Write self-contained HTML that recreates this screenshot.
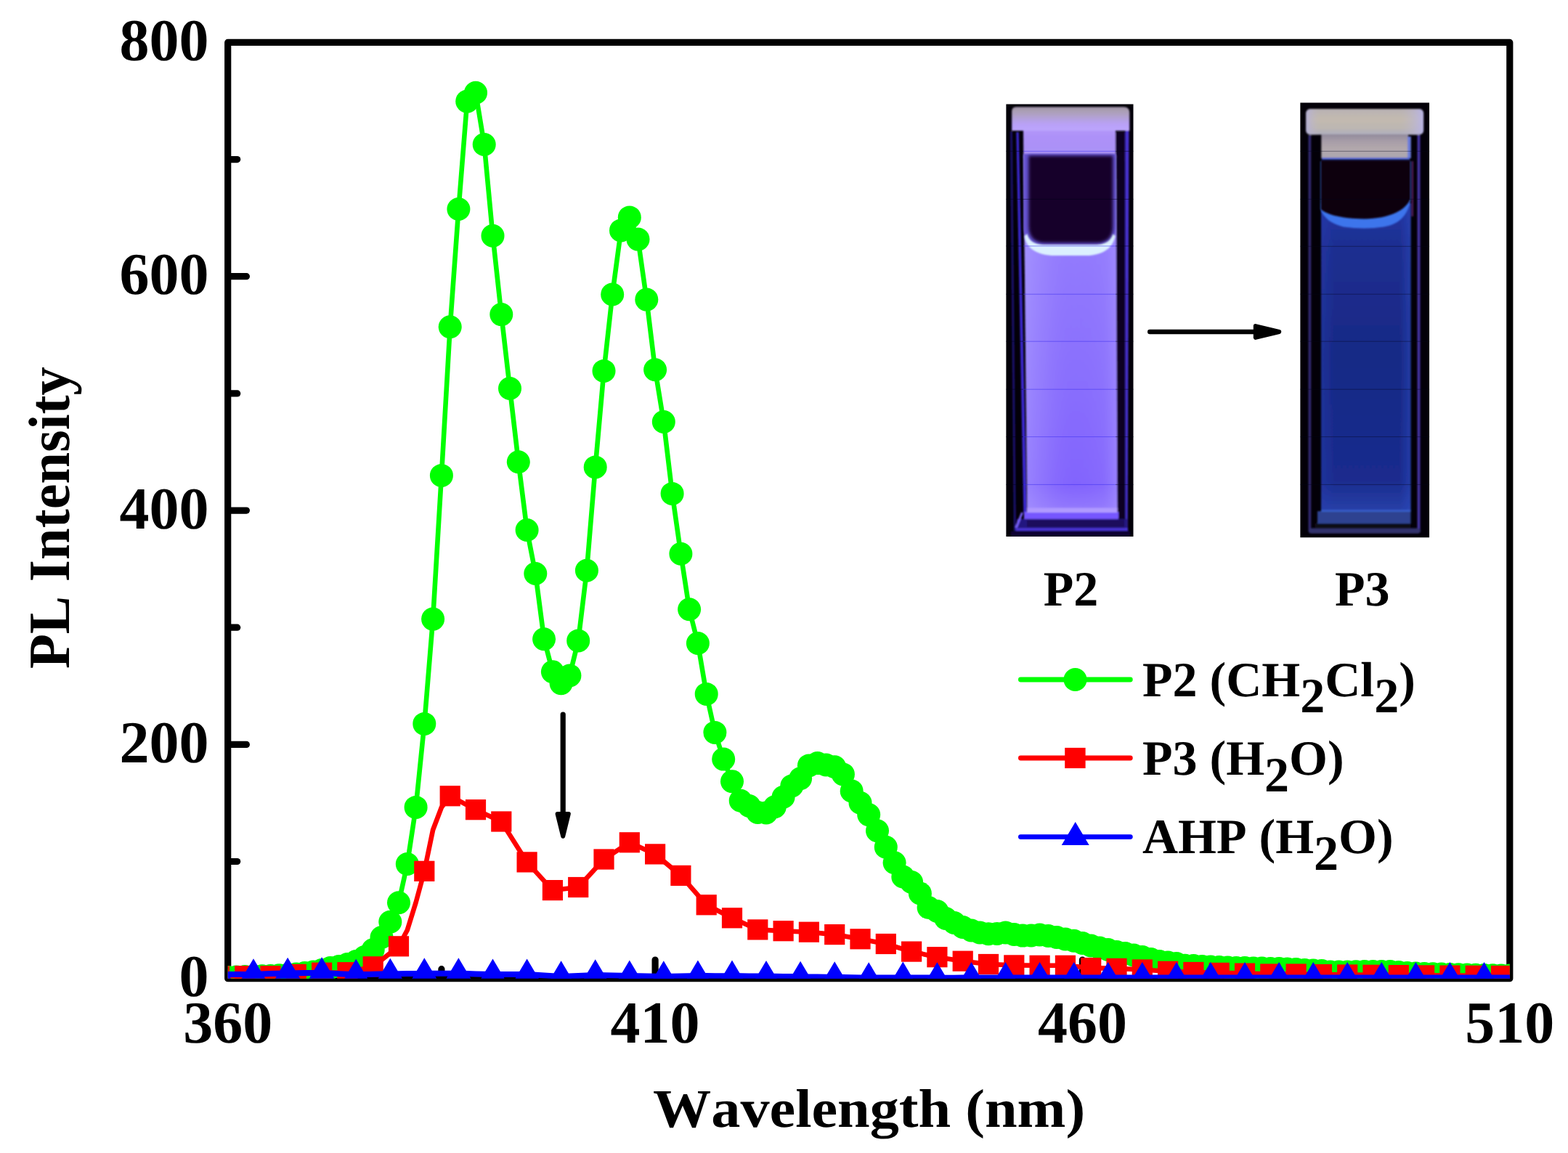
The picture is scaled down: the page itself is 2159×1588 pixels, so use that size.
<!DOCTYPE html>
<html lang="en"><head><meta charset="utf-8"><title>PL Intensity vs Wavelength</title>
<style>html,body{margin:0;padding:0;background:#fff;}body{width:2159px;height:1588px;overflow:hidden;}svg{display:block;}text{font-family:"Liberation Serif","DejaVu Serif",serif;font-weight:bold;fill:#000;font-kerning:none;text-rendering:geometricPrecision;}</style>
</head><body>
<svg width="2159" height="1588" viewBox="0 0 2159 1588">
<defs>
<clipPath id="plotclip"><rect x="313.7" y="58.4" width="1765.1" height="1289.3"/></clipPath>
<clipPath id="clipL"><rect x="1385.2" y="143.3" width="175.5" height="595.7"/></clipPath>
<clipPath id="clipR"><rect x="1790.2" y="141.3" width="178" height="599.2"/></clipPath>
<filter id="b1" x="-20%" y="-20%" width="140%" height="140%"><feGaussianBlur stdDeviation="1.1"/></filter>
<filter id="b2" x="-20%" y="-20%" width="140%" height="140%"><feGaussianBlur stdDeviation="2.2"/></filter>
<filter id="b4" x="-30%" y="-30%" width="160%" height="160%"><feGaussianBlur stdDeviation="4"/></filter>
<linearGradient id="capL" x1="0" y1="0" x2="0" y2="1">
<stop offset="0" stop-color="#9e92a6"/><stop offset="0.15" stop-color="#aa9eb2"/><stop offset="0.35" stop-color="#b0a1c8"/><stop offset="0.55" stop-color="#b5a1e3"/><stop offset="0.75" stop-color="#b9a1f8"/><stop offset="1" stop-color="#bca6fc"/>
</linearGradient>
<linearGradient id="neckL" x1="0" y1="0" x2="0" y2="1">
<stop offset="0" stop-color="#b296f9"/><stop offset="0.3" stop-color="#ad91f8"/><stop offset="0.8" stop-color="#ab92f7"/><stop offset="1" stop-color="#a58cf9"/>
</linearGradient>
<linearGradient id="liqLv" x1="0" y1="0" x2="0" y2="1">
<stop offset="0" stop-color="#a08afd"/><stop offset="0.3" stop-color="#927afd"/><stop offset="0.6" stop-color="#8a70fd"/><stop offset="0.93" stop-color="#8264fd"/><stop offset="1" stop-color="#947afd"/>
</linearGradient>
<linearGradient id="liqLh" x1="0" y1="0" x2="1" y2="0">
<stop offset="0" stop-color="#b4a8ff" stop-opacity="0.5"/><stop offset="0.25" stop-color="#a896ff" stop-opacity="0.25"/><stop offset="0.55" stop-color="#8a68ff" stop-opacity="0"/><stop offset="0.85" stop-color="#9a84ff" stop-opacity="0.2"/><stop offset="1" stop-color="#a894ff" stop-opacity="0.6"/>
</linearGradient>
<linearGradient id="capR" x1="0" y1="0" x2="0" y2="1">
<stop offset="0" stop-color="#b8b2b4"/><stop offset="0.4" stop-color="#c3baaf"/><stop offset="0.75" stop-color="#bcb6b2"/><stop offset="1" stop-color="#aeaebe"/>
</linearGradient>
<linearGradient id="plugR" x1="0" y1="0" x2="0" y2="1">
<stop offset="0" stop-color="#928a9c"/><stop offset="0.3" stop-color="#a89ea8"/><stop offset="0.6" stop-color="#b2a8ac"/><stop offset="1" stop-color="#aca6b0"/>
</linearGradient>
<linearGradient id="liqRv" x1="0" y1="0" x2="0" y2="1">
<stop offset="0" stop-color="#2236a2"/><stop offset="0.15" stop-color="#1e2e90"/><stop offset="0.5" stop-color="#182a86"/><stop offset="0.9" stop-color="#1a2c8e"/><stop offset="1" stop-color="#2840a8"/>
</linearGradient>
<linearGradient id="liqRh" x1="0" y1="0" x2="1" y2="0">
<stop offset="0" stop-color="#2a3cb0" stop-opacity="0.4"/><stop offset="0.15" stop-color="#2238b8" stop-opacity="0"/><stop offset="0.88" stop-color="#2a44c4" stop-opacity="0"/><stop offset="1" stop-color="#2c4cbc" stop-opacity="0.55"/>
</linearGradient>
<linearGradient id="capRh" x1="0" y1="0" x2="1" y2="0">
<stop offset="0" stop-color="#b4b0e0" stop-opacity="0.8"/><stop offset="0.12" stop-color="#c0b8c0" stop-opacity="0"/><stop offset="0.8" stop-color="#c0b8c0" stop-opacity="0"/><stop offset="1" stop-color="#b8b4ec" stop-opacity="0.9"/>
</linearGradient>
</defs>

<rect x="0" y="0" width="2159" height="1588" fill="#fff"/>
<g stroke="#000" stroke-width="9.2" stroke-linecap="round" stroke-linejoin="round" fill="none">
<rect x="313.7" y="58.4" width="1765.1" height="1289.3"/>
<line x1="315.2" y1="1186.5" x2="326.7" y2="1186.5"/>
<line x1="315.2" y1="1025.4" x2="339.4" y2="1025.4"/>
<line x1="315.2" y1="864.2" x2="326.7" y2="864.2"/>
<line x1="315.2" y1="703.1" x2="339.4" y2="703.1"/>
<line x1="315.2" y1="541.9" x2="326.7" y2="541.9"/>
<line x1="315.2" y1="380.7" x2="339.4" y2="380.7"/>
<line x1="315.2" y1="219.6" x2="326.7" y2="219.6"/>
<line x1="607.9" y1="1346.2" x2="607.9" y2="1334.7"/>
<line x1="902.1" y1="1346.2" x2="902.1" y2="1322"/>
<line x1="1196.2" y1="1346.2" x2="1196.2" y2="1334.7"/>
<line x1="1490.4" y1="1346.2" x2="1490.4" y2="1322"/>
<line x1="1784.6" y1="1346.2" x2="1784.6" y2="1334.7"/>
</g>
<g id="photoP2" clip-path="url(#clipL)">
<rect x="1385.2" y="143.3" width="175.5" height="595.7" fill="#030009"/>
<g filter="url(#b1)">
<path d="M1391.2 181H1393.8L1398.8 731H1396Z" fill="#1e1474"/>
<path d="M1399.4 182H1402.6L1413.6 706H1409.4Z" fill="#3e2ad8"/>
<rect x="1536.5" y="182" width="12" height="532" fill="#090220"/>
<path d="M1549.4 180H1554.4L1552.6 731H1549.6Z" fill="#4a32d4"/>
<rect x="1410" y="705" width="130" height="10" fill="#7656ff"/>
<rect x="1400" y="714.8" width="152" height="12.4" fill="#241480"/>
<rect x="1414" y="716" width="134" height="10" fill="#1c0c5c"/>
<rect x="1398.5" y="727.3" width="154.5" height="3.8" fill="#4c36dc"/>
<rect x="1392" y="731.5" width="164" height="7.5" fill="#0c0430"/>
<path d="M1399 727L1407.5 706" stroke="#7a62ff" stroke-width="3" fill="none"/>
<path d="M1409 178H1536L1536.2 218H1409.3Z" fill="url(#neckL)"/>
<path d="M1409.3 214H1536.2L1538.4 703H1414.3Z" fill="url(#liqLv)"/>
<path d="M1409.3 214H1536.2L1538.4 703H1414.3Z" fill="url(#liqLh)"/>
<rect x="1414" y="699.5" width="124.5" height="6.5" fill="#b09aff"/>
<path d="M1393.2 180V153.2Q1393.2 147.2 1399.2 147.2H1547.2Q1555.2 147.2 1555.2 155.2V180Z" fill="url(#capL)"/>
</g>
<path d="M1409.5 212H1536.2V314Q1536.2 337 1512 337H1434Q1409.5 337 1409.5 314Z" fill="#6652d2" filter="url(#b1)"/>
<path d="M1410.6 325C1413 341 1425 350 1448 352L1500 352C1521 350 1532 341 1535.8 325L1532 322C1529 332 1522 336 1510 337L1436 337C1424 336 1417 332 1414.4 322Z" fill="#dcf0ff" filter="url(#b1)"/>
<path d="M1416.4 214.6H1532.4V311Q1532.4 334.5 1509 334.5H1440Q1416.4 334.5 1416.4 311Z" fill="#130529" filter="url(#b2)"/>
</g>
<g id="photoP3" clip-path="url(#clipR)">
<rect x="1790.2" y="141.3" width="178" height="599.2" fill="#030008"/>
<g filter="url(#b1)">
<rect x="1801.6" y="186" width="3.6" height="546" fill="#332c72"/>
<rect x="1951.6" y="186" width="3.8" height="546" fill="#4634a6"/>
<rect x="1943.6" y="222" width="2.4" height="76" fill="#561c5c"/>
<rect x="1801.8" y="727.6" width="154" height="7.2" rx="4" ry="4" fill="#30306c"/>
<rect x="1810.5" y="720.6" width="132" height="7.4" fill="#0f0818"/>
<rect x="1814" y="704" width="128.5" height="17" fill="#2e4290"/>
<rect x="1819" y="280" width="123.5" height="424" fill="url(#liqRv)"/>
<rect x="1819" y="280" width="123.5" height="424" fill="url(#liqRh)"/>
<rect x="1819" y="702.4" width="123.5" height="2.4" fill="#3860cc"/>
<rect x="1798.2" y="150.1" width="161.9" height="35.4" rx="6" ry="6" fill="url(#capR)"/>
<rect x="1798.2" y="150.1" width="161.9" height="35.4" rx="6" ry="6" fill="url(#capRh)"/>
<rect x="1819.3" y="185" width="119.7" height="33" fill="url(#plugR)"/>
<rect x="1938.2" y="188" width="4.6" height="30" fill="#6a7cdc"/>
<rect x="1820" y="217.2" width="121" height="3.6" fill="#4a5ed0"/>
</g>
<path d="M1818.4 288C1822 300 1834 309 1850 312.4Q1878 316.6 1905 312.6C1924 309 1938 300 1942.5 274L1942.5 222H1818.4Z" fill="#3c74ec" filter="url(#b1)"/>
<path d="M1818.6 220.6H1942V274C1936 289 1914 301 1878 301.6C1846 301 1829 296 1818.6 288.6Z" fill="#0d0611" filter="url(#b1)"/>
</g>
<g id="scanlines" stroke-width="0.8" fill="none">
<path d="M1409 208.3H1536M1409 338.9H1536M1409 405.2H1536M1409 470.2H1536M1409 536.2H1536M1409 601.6H1536M1409 667.4H1536" stroke="#3a2cf0" stroke-opacity="0.65"/>
<path d="M1385.2 208.3H1409M1536 208.3H1560.7M1385.2 274.4H1560.7M1385.2 338.9H1409M1536 338.9H1560.7M1385.2 405.2H1409M1536 405.2H1560.7M1385.2 470.2H1409M1536 470.2H1560.7M1385.2 536.2H1409M1536 536.2H1560.7M1385.2 601.6H1409M1536 601.6H1560.7M1385.2 667.4H1409M1536 667.4H1560.7" stroke="#000018" stroke-opacity="0.6"/>
<path d="M1790.2 208.3H1968.2M1790.2 274.4H1968.2M1790.2 339.3H1968.2M1790.2 405.2H1968.2M1790.2 470.2H1968.2M1790.2 536.2H1968.2M1790.2 601.6H1968.2M1790.2 667.4H1968.2" stroke="#05051c" stroke-opacity="0.5"/>
</g>

<g clip-path="url(#plotclip)">
<polyline points="313.7,1346 325.5,1345.5 337.2,1345 349,1344.6 360.8,1344.3 372.5,1344 384.3,1343.3 396.1,1342.5 407.8,1341.5 419.6,1340 431.4,1338.5 443.1,1336 454.9,1333 466.7,1331 478.4,1328 490.2,1324 502,1318 513.7,1308 525.5,1291 537.3,1269.7 549,1243.3 560.8,1190 572.6,1111.9 584.3,996.9 596.1,852.6 607.9,654.9 619.7,450.3 631.4,288 643.2,139.6 655,127.7 666.7,199 678.5,324.7 690.3,433.1 702,535 713.8,636.3 725.6,730 737.3,790 749.1,880.2 760.9,925.3 772.6,941.2 784.4,930.4 796.2,882.4 807.9,785.8 819.7,643.4 831.5,510.9 843.2,405.5 855,317.4 866.8,299.4 878.5,329.6 890.3,412.6 902.1,509.2 913.8,581 925.6,679.9 937.4,762.7 949.1,839.3 960.9,886 972.7,955.9 984.4,1008.9 996.2,1045.6 1008,1076.2 1019.7,1102.8 1031.5,1110 1043.3,1119 1055,1119.5 1066.8,1111.3 1078.6,1097.7 1090.3,1082.4 1102.1,1072.2 1113.9,1054.4 1125.6,1051.1 1137.4,1053.4 1149.2,1056.2 1160.9,1066.4 1172.7,1089.5 1184.5,1105.8 1196.2,1122.1 1208,1144.3 1219.8,1166.7 1231.6,1188.3 1243.3,1207.5 1255.1,1215 1266.9,1230.5 1278.6,1250 1290.4,1255 1302.2,1265 1313.9,1271 1325.7,1277 1337.5,1281.5 1349.2,1284.5 1361,1286.3 1372.8,1286 1384.5,1284.5 1396.3,1287 1408.1,1288.6 1419.8,1288.5 1431.6,1287.5 1443.4,1289 1455.1,1291 1466.9,1293.5 1478.7,1295.7 1490.4,1299 1502.2,1302.5 1514,1305.5 1525.7,1308 1537.5,1311 1549.3,1313 1561,1315.5 1572.8,1318 1584.6,1321 1596.3,1324 1608.1,1325.4 1619.9,1327 1631.6,1329.8 1643.4,1330 1655.2,1331 1666.9,1331.5 1678.7,1332 1690.5,1332.5 1702.2,1333 1714,1333 1725.8,1333.5 1737.5,1333.5 1749.3,1334 1761.1,1334 1772.8,1334.5 1784.6,1335 1796.4,1336 1808.2,1336.4 1819.9,1337 1831.7,1338.5 1843.5,1338.5 1855.2,1338.4 1867,1338.2 1878.8,1338 1890.5,1338 1902.3,1338 1914.1,1338 1925.8,1339 1937.6,1340 1949.4,1340.6 1961.1,1340.9 1972.9,1341.2 1984.7,1341.6 1996.4,1341.9 2008.2,1342.2 2020,1342.5 2031.7,1342.7 2043.5,1343 2055.3,1343.3 2067,1343.4 2078.8,1343.6" fill="none" stroke="#00ff00" stroke-width="6.6" stroke-linejoin="round" stroke-linecap="round"/>
<g fill="#00ff00">
<circle cx="313.7" cy="1346" r="16"/>
<circle cx="325.5" cy="1345.5" r="16"/>
<circle cx="337.2" cy="1345" r="16"/>
<circle cx="349" cy="1344.6" r="16"/>
<circle cx="360.8" cy="1344.3" r="16"/>
<circle cx="372.5" cy="1344" r="16"/>
<circle cx="384.3" cy="1343.3" r="16"/>
<circle cx="396.1" cy="1342.5" r="16"/>
<circle cx="407.8" cy="1341.5" r="16"/>
<circle cx="419.6" cy="1340" r="16"/>
<circle cx="431.4" cy="1338.5" r="16"/>
<circle cx="443.1" cy="1336" r="16"/>
<circle cx="454.9" cy="1333" r="16"/>
<circle cx="466.7" cy="1331" r="16"/>
<circle cx="478.4" cy="1328" r="16"/>
<circle cx="490.2" cy="1324" r="16"/>
<circle cx="502" cy="1318" r="16"/>
<circle cx="513.7" cy="1308" r="16"/>
<circle cx="525.5" cy="1291" r="16"/>
<circle cx="537.3" cy="1269.7" r="16"/>
<circle cx="549" cy="1243.3" r="16"/>
<circle cx="560.8" cy="1190" r="16"/>
<circle cx="572.6" cy="1111.9" r="16"/>
<circle cx="584.3" cy="996.9" r="16"/>
<circle cx="596.1" cy="852.6" r="16"/>
<circle cx="607.9" cy="654.9" r="16"/>
<circle cx="619.7" cy="450.3" r="16"/>
<circle cx="631.4" cy="288" r="16"/>
<circle cx="643.2" cy="139.6" r="16"/>
<circle cx="655" cy="127.7" r="16"/>
<circle cx="666.7" cy="199" r="16"/>
<circle cx="678.5" cy="324.7" r="16"/>
<circle cx="690.3" cy="433.1" r="16"/>
<circle cx="702" cy="535" r="16"/>
<circle cx="713.8" cy="636.3" r="16"/>
<circle cx="725.6" cy="730" r="16"/>
<circle cx="737.3" cy="790" r="16"/>
<circle cx="749.1" cy="880.2" r="16"/>
<circle cx="760.9" cy="925.3" r="16"/>
<circle cx="772.6" cy="941.2" r="16"/>
<circle cx="784.4" cy="930.4" r="16"/>
<circle cx="796.2" cy="882.4" r="16"/>
<circle cx="807.9" cy="785.8" r="16"/>
<circle cx="819.7" cy="643.4" r="16"/>
<circle cx="831.5" cy="510.9" r="16"/>
<circle cx="843.2" cy="405.5" r="16"/>
<circle cx="855" cy="317.4" r="16"/>
<circle cx="866.8" cy="299.4" r="16"/>
<circle cx="878.5" cy="329.6" r="16"/>
<circle cx="890.3" cy="412.6" r="16"/>
<circle cx="902.1" cy="509.2" r="16"/>
<circle cx="913.8" cy="581" r="16"/>
<circle cx="925.6" cy="679.9" r="16"/>
<circle cx="937.4" cy="762.7" r="16"/>
<circle cx="949.1" cy="839.3" r="16"/>
<circle cx="960.9" cy="886" r="16"/>
<circle cx="972.7" cy="955.9" r="16"/>
<circle cx="984.4" cy="1008.9" r="16"/>
<circle cx="996.2" cy="1045.6" r="16"/>
<circle cx="1008" cy="1076.2" r="16"/>
<circle cx="1019.7" cy="1102.8" r="16"/>
<circle cx="1031.5" cy="1110" r="16"/>
<circle cx="1043.3" cy="1119" r="16"/>
<circle cx="1055" cy="1119.5" r="16"/>
<circle cx="1066.8" cy="1111.3" r="16"/>
<circle cx="1078.6" cy="1097.7" r="16"/>
<circle cx="1090.3" cy="1082.4" r="16"/>
<circle cx="1102.1" cy="1072.2" r="16"/>
<circle cx="1113.9" cy="1054.4" r="16"/>
<circle cx="1125.6" cy="1051.1" r="16"/>
<circle cx="1137.4" cy="1053.4" r="16"/>
<circle cx="1149.2" cy="1056.2" r="16"/>
<circle cx="1160.9" cy="1066.4" r="16"/>
<circle cx="1172.7" cy="1089.5" r="16"/>
<circle cx="1184.5" cy="1105.8" r="16"/>
<circle cx="1196.2" cy="1122.1" r="16"/>
<circle cx="1208" cy="1144.3" r="16"/>
<circle cx="1219.8" cy="1166.7" r="16"/>
<circle cx="1231.6" cy="1188.3" r="16"/>
<circle cx="1243.3" cy="1207.5" r="16"/>
<circle cx="1255.1" cy="1215" r="16"/>
<circle cx="1266.9" cy="1230.5" r="16"/>
<circle cx="1278.6" cy="1250" r="16"/>
<circle cx="1290.4" cy="1255" r="16"/>
<circle cx="1302.2" cy="1265" r="16"/>
<circle cx="1313.9" cy="1271" r="16"/>
<circle cx="1325.7" cy="1277" r="16"/>
<circle cx="1337.5" cy="1281.5" r="16"/>
<circle cx="1349.2" cy="1284.5" r="16"/>
<circle cx="1361" cy="1286.3" r="16"/>
<circle cx="1372.8" cy="1286" r="16"/>
<circle cx="1384.5" cy="1284.5" r="16"/>
<circle cx="1396.3" cy="1287" r="16"/>
<circle cx="1408.1" cy="1288.6" r="16"/>
<circle cx="1419.8" cy="1288.5" r="16"/>
<circle cx="1431.6" cy="1287.5" r="16"/>
<circle cx="1443.4" cy="1289" r="16"/>
<circle cx="1455.1" cy="1291" r="16"/>
<circle cx="1466.9" cy="1293.5" r="16"/>
<circle cx="1478.7" cy="1295.7" r="16"/>
<circle cx="1490.4" cy="1299" r="16"/>
<circle cx="1502.2" cy="1302.5" r="16"/>
<circle cx="1514" cy="1305.5" r="16"/>
<circle cx="1525.7" cy="1308" r="16"/>
<circle cx="1537.5" cy="1311" r="16"/>
<circle cx="1549.3" cy="1313" r="16"/>
<circle cx="1561" cy="1315.5" r="16"/>
<circle cx="1572.8" cy="1318" r="16"/>
<circle cx="1584.6" cy="1321" r="16"/>
<circle cx="1596.3" cy="1324" r="16"/>
<circle cx="1608.1" cy="1325.4" r="16"/>
<circle cx="1619.9" cy="1327" r="16"/>
<circle cx="1631.6" cy="1329.8" r="16"/>
<circle cx="1643.4" cy="1330" r="16"/>
<circle cx="1655.2" cy="1331" r="16"/>
<circle cx="1666.9" cy="1331.5" r="16"/>
<circle cx="1678.7" cy="1332" r="16"/>
<circle cx="1690.5" cy="1332.5" r="16"/>
<circle cx="1702.2" cy="1333" r="16"/>
<circle cx="1714" cy="1333" r="16"/>
<circle cx="1725.8" cy="1333.5" r="16"/>
<circle cx="1737.5" cy="1333.5" r="16"/>
<circle cx="1749.3" cy="1334" r="16"/>
<circle cx="1761.1" cy="1334" r="16"/>
<circle cx="1772.8" cy="1334.5" r="16"/>
<circle cx="1784.6" cy="1335" r="16"/>
<circle cx="1796.4" cy="1336" r="16"/>
<circle cx="1808.2" cy="1336.4" r="16"/>
<circle cx="1819.9" cy="1337" r="16"/>
<circle cx="1831.7" cy="1338.5" r="16"/>
<circle cx="1843.5" cy="1338.5" r="16"/>
<circle cx="1855.2" cy="1338.4" r="16"/>
<circle cx="1867" cy="1338.2" r="16"/>
<circle cx="1878.8" cy="1338" r="16"/>
<circle cx="1890.5" cy="1338" r="16"/>
<circle cx="1902.3" cy="1338" r="16"/>
<circle cx="1914.1" cy="1338" r="16"/>
<circle cx="1925.8" cy="1339" r="16"/>
<circle cx="1937.6" cy="1340" r="16"/>
<circle cx="1949.4" cy="1340.6" r="16"/>
<circle cx="1961.1" cy="1340.9" r="16"/>
<circle cx="1972.9" cy="1341.2" r="16"/>
<circle cx="1984.7" cy="1341.6" r="16"/>
<circle cx="1996.4" cy="1341.9" r="16"/>
<circle cx="2008.2" cy="1342.2" r="16"/>
<circle cx="2020" cy="1342.5" r="16"/>
<circle cx="2031.7" cy="1342.7" r="16"/>
<circle cx="2043.5" cy="1343" r="16"/>
<circle cx="2055.3" cy="1343.3" r="16"/>
<circle cx="2067" cy="1343.4" r="16"/>
<circle cx="2078.8" cy="1343.6" r="16"/>
</g>
<polyline points="301.9,1344.5 337.2,1344.2 372.5,1344.2 407.8,1341.9 443.1,1339.7 478.4,1339.2 513.7,1331.3 549,1303.3 560.8,1281 572.6,1243 584.3,1199.8 596.1,1143 607.9,1112 619.7,1096.3 655,1115.2 690.3,1131.5 725.6,1187.4 760.9,1226.1 796.2,1222 831.5,1183.5 866.8,1160.3 902.1,1176.4 937.4,1205.9 972.7,1246.3 1008,1264.3 1043.3,1280.4 1078.6,1282.2 1113.9,1283.7 1149.2,1287.1 1184.5,1293.3 1219.8,1300 1255.1,1310.6 1290.4,1318.2 1325.7,1323.7 1361,1328 1396.3,1329.4 1431.6,1329.8 1466.9,1329.8 1502.2,1333.1 1537.5,1333.9 1572.8,1335.5 1608.1,1337.8 1643.4,1339 1678.7,1339.9 1714,1340.6 1749.3,1341.5 1784.6,1341.5 1819.9,1342.1 1855.2,1342.5 1890.5,1342.8 1925.8,1343.1 1961.1,1343.4 1996.4,1343.6 2031.7,1343.8 2067,1344 2102.3,1344" fill="none" stroke="#ff0000" stroke-width="6.6" stroke-linejoin="round" stroke-linecap="round"/>
<g fill="#ff0000">
<rect x="287.8" y="1330.4" width="28.2" height="28.2"/>
<rect x="323.1" y="1330.1" width="28.2" height="28.2"/>
<rect x="358.4" y="1330.1" width="28.2" height="28.2"/>
<rect x="393.7" y="1327.8" width="28.2" height="28.2"/>
<rect x="429" y="1325.6" width="28.2" height="28.2"/>
<rect x="464.3" y="1325.1" width="28.2" height="28.2"/>
<rect x="499.6" y="1317.2" width="28.2" height="28.2"/>
<rect x="534.9" y="1289.2" width="28.2" height="28.2"/>
<rect x="570.2" y="1185.7" width="28.2" height="28.2"/>
<rect x="605.6" y="1082.2" width="28.2" height="28.2"/>
<rect x="640.9" y="1101.1" width="28.2" height="28.2"/>
<rect x="676.2" y="1117.4" width="28.2" height="28.2"/>
<rect x="711.5" y="1173.3" width="28.2" height="28.2"/>
<rect x="746.8" y="1212" width="28.2" height="28.2"/>
<rect x="782.1" y="1207.9" width="28.2" height="28.2"/>
<rect x="817.4" y="1169.4" width="28.2" height="28.2"/>
<rect x="852.7" y="1146.2" width="28.2" height="28.2"/>
<rect x="888" y="1162.3" width="28.2" height="28.2"/>
<rect x="923.3" y="1191.8" width="28.2" height="28.2"/>
<rect x="958.6" y="1232.2" width="28.2" height="28.2"/>
<rect x="993.9" y="1250.2" width="28.2" height="28.2"/>
<rect x="1029.2" y="1266.3" width="28.2" height="28.2"/>
<rect x="1064.5" y="1268.1" width="28.2" height="28.2"/>
<rect x="1099.8" y="1269.6" width="28.2" height="28.2"/>
<rect x="1135.1" y="1273" width="28.2" height="28.2"/>
<rect x="1170.4" y="1279.2" width="28.2" height="28.2"/>
<rect x="1205.7" y="1285.9" width="28.2" height="28.2"/>
<rect x="1241" y="1296.5" width="28.2" height="28.2"/>
<rect x="1276.3" y="1304.1" width="28.2" height="28.2"/>
<rect x="1311.6" y="1309.6" width="28.2" height="28.2"/>
<rect x="1346.9" y="1313.9" width="28.2" height="28.2"/>
<rect x="1382.2" y="1315.3" width="28.2" height="28.2"/>
<rect x="1417.5" y="1315.7" width="28.2" height="28.2"/>
<rect x="1452.8" y="1315.7" width="28.2" height="28.2"/>
<rect x="1488.1" y="1319" width="28.2" height="28.2"/>
<rect x="1523.4" y="1319.8" width="28.2" height="28.2"/>
<rect x="1558.7" y="1321.4" width="28.2" height="28.2"/>
<rect x="1594" y="1323.7" width="28.2" height="28.2"/>
<rect x="1629.3" y="1324.9" width="28.2" height="28.2"/>
<rect x="1664.6" y="1325.8" width="28.2" height="28.2"/>
<rect x="1699.9" y="1326.5" width="28.2" height="28.2"/>
<rect x="1735.2" y="1327.4" width="28.2" height="28.2"/>
<rect x="1770.5" y="1327.4" width="28.2" height="28.2"/>
<rect x="1805.8" y="1328" width="28.2" height="28.2"/>
<rect x="1841.1" y="1328.4" width="28.2" height="28.2"/>
<rect x="1876.4" y="1328.7" width="28.2" height="28.2"/>
<rect x="1911.7" y="1329" width="28.2" height="28.2"/>
<rect x="1947" y="1329.3" width="28.2" height="28.2"/>
<rect x="1982.3" y="1329.5" width="28.2" height="28.2"/>
<rect x="2017.6" y="1329.7" width="28.2" height="28.2"/>
<rect x="2052.9" y="1329.9" width="28.2" height="28.2"/>
</g>
<polyline points="301.9,1342.2 313.7,1342.1 325.5,1342.1 337.2,1342 349,1341.9 360.8,1341.5 372.5,1341.1 384.3,1340.7 396.1,1340.3 407.8,1340.2 419.6,1340.1 431.4,1340 443.1,1339.9 454.9,1340.5 466.7,1341.2 478.4,1341.8 490.2,1342.4 502,1342.1 513.7,1341.8 525.5,1341.6 537.3,1341.3 549,1341.2 560.8,1341 572.6,1340.9 584.3,1340.8 596.1,1340.8 607.9,1340.8 619.7,1340.8 631.4,1340.8 643.2,1341.1 655,1341.4 666.7,1341.7 678.5,1342 690.3,1342 702,1342 713.8,1342 725.6,1342 737.3,1342.7 749.1,1343.5 760.9,1344.2 772.6,1344.9 784.4,1344.4 796.2,1343.9 807.9,1343.4 819.7,1342.9 831.5,1343.2 843.2,1343.5 855,1343.8 866.8,1344.1 878.5,1344.3 890.3,1344.5 902.1,1344.7 913.8,1344.9 925.6,1344.7 937.4,1344.5 949.1,1344.3 960.9,1344.1 972.7,1344.1 984.4,1344.2 996.2,1344.2 1008,1344.2 1019.7,1344.3 1031.5,1344.4 1043.3,1344.5 1055,1344.6 1066.8,1344.8 1078.6,1344.9 1090.3,1345.1 1102.1,1345.3 1113.9,1345.4 1125.6,1345.5 1137.4,1345.7 1149.2,1345.8 1160.9,1346 1172.7,1346.3 1184.5,1346.5 1196.2,1346.8 1208,1346.6 1219.8,1346.5 1231.6,1346.4 1243.3,1346.2 1255.1,1346.4 1266.9,1346.5 1278.6,1346.6 1290.4,1346.8 1302.2,1346.8 1313.9,1346.7 1325.7,1346.6 1337.5,1346.6 1349.2,1346.6 1361,1346.6 1372.8,1346.6 1384.5,1346.6 1396.3,1346.6 1408.1,1346.6 1419.8,1346.6 1431.6,1346.6 1443.4,1346.6 1455.1,1346.6 1466.9,1346.6 1478.7,1346.6 1490.4,1346.6 1502.2,1346.6 1514,1346.6 1525.7,1346.6 1537.5,1346.6 1549.3,1346.6 1561,1346.6 1572.8,1346.6 1584.6,1346.6 1596.3,1346.6 1608.1,1346.6 1619.9,1346.6 1631.6,1346.6 1643.4,1346.6 1655.2,1346.6 1666.9,1346.6 1678.7,1346.6 1690.5,1346.6 1702.2,1346.6 1714,1346.6 1725.8,1346.6 1737.5,1346.6 1749.3,1346.6 1761.1,1346.6 1772.8,1346.6 1784.6,1346.6 1796.4,1346.6 1808.2,1346.6 1819.9,1346.6 1831.7,1346.6 1843.5,1346.6 1855.2,1346.6 1867,1346.6 1878.8,1346.6 1890.5,1346.6 1902.3,1346.6 1914.1,1346.6 1925.8,1346.6 1937.6,1346.6 1949.4,1346.6 1961.1,1346.6 1972.9,1346.6 1984.7,1346.6 1996.4,1346.6 2008.2,1346.6 2020,1346.6 2031.7,1346.6 2043.5,1346.6 2055.3,1346.6 2067,1346.6 2078.8,1346.6 2090.6,1346.6" fill="none" stroke="#0000ff" stroke-width="8" stroke-linejoin="round" stroke-linecap="round"/>
<g fill="#0000ff">
<path d="M301.9 1320.6L320.9 1352.7L282.9 1352.7Z"/>
<path d="M349 1320.3L368 1352.4L330 1352.4Z"/>
<path d="M396.1 1318.7L415.1 1350.8L377.1 1350.8Z"/>
<path d="M443.1 1318.3L462.1 1350.4L424.1 1350.4Z"/>
<path d="M490.2 1320.8L509.2 1352.9L471.2 1352.9Z"/>
<path d="M537.3 1319.7L556.3 1351.8L518.3 1351.8Z"/>
<path d="M584.3 1319.2L603.3 1351.3L565.3 1351.3Z"/>
<path d="M631.4 1319.2L650.4 1351.3L612.4 1351.3Z"/>
<path d="M678.5 1320.4L697.5 1352.5L659.5 1352.5Z"/>
<path d="M725.6 1320.4L744.6 1352.5L706.6 1352.5Z"/>
<path d="M772.6 1323.3L791.6 1355.4L753.6 1355.4Z"/>
<path d="M819.7 1321.3L838.7 1353.4L800.7 1353.4Z"/>
<path d="M866.8 1322.5L885.8 1354.6L847.8 1354.6Z"/>
<path d="M913.8 1323.3L932.8 1355.4L894.8 1355.4Z"/>
<path d="M960.9 1322.5L979.9 1354.6L941.9 1354.6Z"/>
<path d="M1008 1322.6L1027 1354.7L989 1354.7Z"/>
<path d="M1055 1323L1074 1355.1L1036 1355.1Z"/>
<path d="M1102.1 1323.7L1121.1 1355.8L1083.1 1355.8Z"/>
<path d="M1149.2 1324.2L1168.2 1356.3L1130.2 1356.3Z"/>
<path d="M1196.2 1325.2L1215.2 1357.3L1177.2 1357.3Z"/>
<path d="M1243.3 1324.6L1262.3 1356.7L1224.3 1356.7Z"/>
<path d="M1290.4 1325.2L1309.4 1357.3L1271.4 1357.3Z"/>
<path d="M1337.5 1325L1356.5 1357.1L1318.5 1357.1Z"/>
<path d="M1384.5 1325L1403.5 1357.1L1365.5 1357.1Z"/>
<path d="M1431.6 1325L1450.6 1357.1L1412.6 1357.1Z"/>
<path d="M1478.7 1325L1497.7 1357.1L1459.7 1357.1Z"/>
<path d="M1525.7 1325L1544.7 1357.1L1506.7 1357.1Z"/>
<path d="M1572.8 1325L1591.8 1357.1L1553.8 1357.1Z"/>
<path d="M1619.9 1325L1638.9 1357.1L1600.9 1357.1Z"/>
<path d="M1666.9 1325L1685.9 1357.1L1647.9 1357.1Z"/>
<path d="M1714 1325L1733 1357.1L1695 1357.1Z"/>
<path d="M1761.1 1325L1780.1 1357.1L1742.1 1357.1Z"/>
<path d="M1808.2 1325L1827.2 1357.1L1789.2 1357.1Z"/>
<path d="M1855.2 1325L1874.2 1357.1L1836.2 1357.1Z"/>
<path d="M1902.3 1325L1921.3 1357.1L1883.3 1357.1Z"/>
<path d="M1949.4 1325L1968.4 1357.1L1930.4 1357.1Z"/>
<path d="M1996.4 1325L2015.4 1357.1L1977.4 1357.1Z"/>
<path d="M2043.5 1325L2062.5 1357.1L2024.5 1357.1Z"/>
<path d="M2090.6 1325L2109.6 1357.1L2071.6 1357.1Z"/>
</g>
</g>
<g id="ticklabels" font-size="82">
<text x="287.4" y="82.9" text-anchor="end">800</text>
<text x="287.4" y="405.2" text-anchor="end">600</text>
<text x="287.4" y="727.5" text-anchor="end">400</text>
<text x="287.4" y="1049.9" text-anchor="end">200</text>
<text x="287.4" y="1372.2" text-anchor="end">0</text>
<text x="313.7" y="1436.3" text-anchor="middle">360</text>
<text x="902.1" y="1436.3" text-anchor="middle">410</text>
<text x="1490.4" y="1436.3" text-anchor="middle">460</text>
<text x="2078.8" y="1436.3" text-anchor="middle">510</text>
</g>
<g id="titles">
<text id="xtitle" transform="translate(1196.6 1551.9) scale(1.070 1)" font-size="75" text-anchor="middle">Wavelength (nm)</text>
<text id="ytitle" transform="translate(94.8 713.2) rotate(-90) scale(0.9734 1)" font-size="80.5" text-anchor="middle">PL Intensity</text>
</g>
<g id="photolabels" font-size="68">
<text x="1474.4" y="834.3" text-anchor="middle">P2</text>
<text x="1875.8" y="834.3" text-anchor="middle">P3</text>
</g>
<g id="arrows" stroke="#000" fill="#000" stroke-linecap="round" stroke-linejoin="round">
<line x1="1583.2" y1="457" x2="1730" y2="457" stroke-width="6.4"/>
<path d="M1728.8 449.1L1761.2 457L1728.8 464.9Z" stroke-width="6"/>
<line x1="775.2" y1="984" x2="775.2" y2="1122" stroke-width="7.2"/>
<path d="M767.6 1121L775.2 1151.8L782.8 1121Z" stroke-width="6"/>
</g>
<g id="legend">
<g stroke-linecap="round" stroke-width="6.8" fill="none">
<line x1="1405.4" y1="936" x2="1556.3" y2="936" stroke="#00ff00"/>
<line x1="1405.4" y1="1044" x2="1556.3" y2="1044" stroke="#ff0000"/>
<line x1="1405.4" y1="1152.6" x2="1556.3" y2="1152.6" stroke="#0000ff"/>
</g>
<circle cx="1480.5" cy="936" r="16" fill="#00ff00"/>
<rect x="1466.2" y="1029.9" width="28.4" height="28.2" fill="#ff0000"/>
<path d="M1480.7 1132L1499.7 1164.1L1461.7 1164.1Z" fill="#0000ff"/>
<g font-size="68">
<text x="1573" y="959.2">P2 (CH<tspan dy="21.6">2</tspan><tspan dy="-21.6">Cl</tspan><tspan dy="21.6">2</tspan><tspan dy="-21.6">)</tspan></text>
<text x="1573" y="1067.3">P3 (H<tspan dy="22.4">2</tspan><tspan dy="-22.4">O)</tspan></text>
<text x="1573" y="1175.2">AHP (H<tspan dy="22.7">2</tspan><tspan dy="-22.7">O)</tspan></text>
</g>
</g>

</svg>
</body></html>
